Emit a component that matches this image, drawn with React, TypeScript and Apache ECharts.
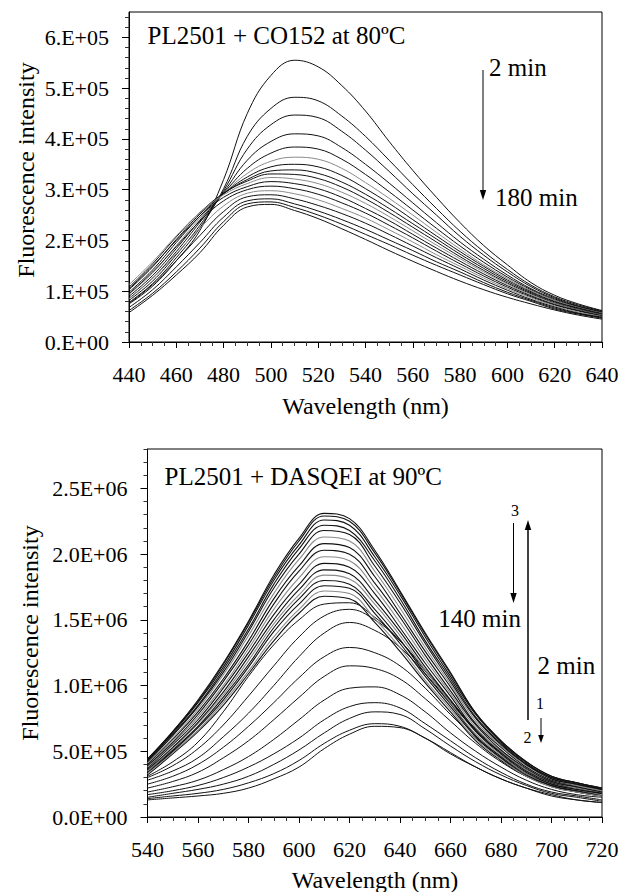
import React, { useEffect, useRef } from "react";
import * as echarts from "echarts";

// ---------- top panel: PL2501 + CO152 at 80ºC (values in 1E+05) ----------
const WL_TOP = [440, 450, 460, 470, 480, 490, 500, 510, 520, 530, 540, 550, 560, 570, 580, 590, 600, 610, 620, 630, 640];
const TOP_C01 = [0.75, 1.10, 1.60, 2.20, 3.20, 4.50, 5.25, 5.55, 5.42, 5.05, 4.55, 3.95, 3.38, 2.85, 2.35, 1.90, 1.52, 1.17, 0.92, 0.75, 0.62];
const TOP_C02 = [0.78, 1.15, 1.66, 2.25, 3.02, 4.05, 4.60, 4.82, 4.75, 4.45, 4.05, 3.58, 3.10, 2.63, 2.18, 1.78, 1.43, 1.12, 0.89, 0.73, 0.61];
const TOP_C03 = [0.82, 1.20, 1.72, 2.30, 2.98, 3.80, 4.28, 4.47, 4.42, 4.15, 3.78, 3.36, 2.92, 2.50, 2.08, 1.71, 1.38, 1.09, 0.87, 0.71, 0.60];
const TOP_C04 = [0.86, 1.26, 1.78, 2.36, 2.95, 3.58, 3.95, 4.10, 4.06, 3.83, 3.50, 3.13, 2.74, 2.35, 1.97, 1.63, 1.32, 1.05, 0.85, 0.70, 0.59];
const TOP_C05 = [0.90, 1.31, 1.84, 2.40, 2.93, 3.42, 3.72, 3.84, 3.80, 3.60, 3.30, 2.96, 2.60, 2.24, 1.89, 1.57, 1.28, 1.03, 0.83, 0.69, 0.58];
const TOP_C06 = [0.94, 1.36, 1.90, 2.44, 2.92, 3.32, 3.56, 3.64, 3.60, 3.42, 3.14, 2.83, 2.50, 2.16, 1.83, 1.52, 1.25, 1.01, 0.82, 0.68, 0.57];
const TOP_C07 = [0.98, 1.42, 1.96, 2.48, 2.92, 3.25, 3.45, 3.50, 3.45, 3.28, 3.02, 2.73, 2.41, 2.09, 1.78, 1.49, 1.22, 0.99, 0.80, 0.67, 0.56];
const TOP_C08 = [1.03, 1.48, 2.02, 2.52, 2.92, 3.20, 3.37, 3.39, 3.32, 3.15, 2.91, 2.63, 2.33, 2.03, 1.73, 1.45, 1.19, 0.97, 0.79, 0.66, 0.55];
const TOP_C09 = [1.08, 1.54, 2.07, 2.55, 2.93, 3.17, 3.31, 3.30, 3.22, 3.05, 2.82, 2.55, 2.26, 1.97, 1.68, 1.41, 1.16, 0.95, 0.77, 0.64, 0.54];
const TOP_C10 = [1.13, 1.58, 2.09, 2.55, 2.90, 3.12, 3.24, 3.21, 3.12, 2.95, 2.73, 2.47, 2.19, 1.91, 1.64, 1.38, 1.14, 0.93, 0.76, 0.63, 0.53];
const TOP_C11 = [1.05, 1.50, 2.00, 2.48, 2.85, 3.06, 3.16, 3.12, 3.02, 2.85, 2.63, 2.39, 2.12, 1.85, 1.59, 1.34, 1.11, 0.91, 0.74, 0.62, 0.52];
const TOP_C12 = [0.95, 1.38, 1.88, 2.38, 2.78, 3.00, 3.07, 3.02, 2.91, 2.74, 2.54, 2.30, 2.05, 1.79, 1.54, 1.30, 1.08, 0.89, 0.73, 0.61, 0.51];
const TOP_C13 = [0.85, 1.25, 1.74, 2.24, 2.68, 2.93, 2.98, 2.92, 2.80, 2.63, 2.44, 2.21, 1.97, 1.72, 1.49, 1.26, 1.05, 0.87, 0.71, 0.59, 0.50];
const TOP_C14 = [0.76, 1.13, 1.60, 2.10, 2.57, 2.86, 2.90, 2.82, 2.69, 2.53, 2.34, 2.12, 1.89, 1.66, 1.44, 1.22, 1.02, 0.84, 0.69, 0.57, 0.49];
const TOP_C15 = [0.68, 1.03, 1.48, 1.96, 2.46, 2.78, 2.82, 2.72, 2.58, 2.41, 2.22, 2.01, 1.80, 1.58, 1.38, 1.17, 0.98, 0.82, 0.67, 0.56, 0.48];
const TOP_C16 = [0.62, 0.96, 1.38, 1.85, 2.37, 2.72, 2.76, 2.65, 2.50, 2.32, 2.12, 1.92, 1.71, 1.51, 1.32, 1.13, 0.95, 0.80, 0.65, 0.55, 0.47];
const TOP_C17 = [0.58, 0.92, 1.32, 1.76, 2.30, 2.66, 2.71, 2.59, 2.43, 2.23, 2.02, 1.80, 1.59, 1.39, 1.20, 1.03, 0.88, 0.75, 0.63, 0.53, 0.45];
const TOP_CURVES = [TOP_C01, TOP_C02, TOP_C03, TOP_C04, TOP_C05, TOP_C06, TOP_C07, TOP_C08, TOP_C09, TOP_C10, TOP_C11, TOP_C12, TOP_C13, TOP_C14, TOP_C15, TOP_C16, TOP_C17];
const TOP_GRAY = [5, 9, 12];
const TOP_Y_TICKS = [0, 1, 2, 3, 4, 5, 6];

// ---------- bottom panel: PL2501 + DASQEI at 90ºC (values in 1E+06) ----------
const WL_BOT = [540, 550, 560, 570, 580, 590, 600, 610, 620, 630, 640, 650, 660, 670, 680, 690, 700, 710, 720];
// lower, separated curves
const BOT_L01 = [0.13, 0.145, 0.16, 0.18, 0.22, 0.29, 0.38, 0.52, 0.63, 0.69, 0.68, 0.60, 0.49, 0.38, 0.29, 0.22, 0.17, 0.13, 0.11];
const BOT_L02 = [0.14, 0.16, 0.18, 0.21, 0.26, 0.33, 0.43, 0.56, 0.66, 0.71, 0.69, 0.60, 0.48, 0.38, 0.29, 0.22, 0.16, 0.13, 0.11];
const BOT_L03 = [0.15, 0.18, 0.21, 0.25, 0.31, 0.40, 0.51, 0.64, 0.75, 0.80, 0.78, 0.67, 0.54, 0.42, 0.32, 0.24, 0.18, 0.15, 0.12];
const BOT_L04 = [0.17, 0.20, 0.24, 0.30, 0.38, 0.48, 0.60, 0.74, 0.84, 0.87, 0.83, 0.71, 0.58, 0.45, 0.34, 0.25, 0.19, 0.16, 0.13];
const BOT_L05 = [0.19, 0.23, 0.28, 0.36, 0.46, 0.59, 0.74, 0.89, 0.98, 0.99, 0.93, 0.80, 0.64, 0.50, 0.38, 0.28, 0.21, 0.17, 0.15];
const BOT_L06 = [0.22, 0.27, 0.34, 0.45, 0.58, 0.74, 0.91, 1.07, 1.15, 1.13, 1.05, 0.90, 0.73, 0.56, 0.42, 0.31, 0.24, 0.19, 0.16];
const BOT_L07 = [0.25, 0.31, 0.40, 0.53, 0.69, 0.87, 1.06, 1.22, 1.29, 1.25, 1.15, 0.98, 0.78, 0.60, 0.45, 0.33, 0.25, 0.21, 0.17];
const BOT_L08 = [0.28, 0.35, 0.45, 0.61, 0.79, 1.00, 1.22, 1.40, 1.48, 1.42, 1.29, 1.09, 0.87, 0.66, 0.49, 0.36, 0.27, 0.22, 0.19];
const BOT_L09 = [0.30, 0.39, 0.52, 0.70, 0.92, 1.15, 1.37, 1.53, 1.58, 1.50, 1.34, 1.12, 0.89, 0.67, 0.50, 0.36, 0.27, 0.23, 0.19];
const BOT_L10 = [0.31, 0.42, 0.57, 0.80, 1.07, 1.31, 1.50, 1.62, 1.63, 1.52, 1.34, 1.11, 0.88, 0.66, 0.49, 0.36, 0.27, 0.22, 0.19];
// dense band
const BOT_D01 = [0.32, 0.48, 0.65, 0.85, 1.09, 1.34, 1.55, 1.68, 1.66, 1.48, 1.26, 1.02, 0.80, 0.58, 0.43, 0.31, 0.23, 0.19, 0.16];
const BOT_D02 = [0.33, 0.49, 0.66, 0.87, 1.11, 1.37, 1.58, 1.72, 1.70, 1.51, 1.29, 1.04, 0.82, 0.59, 0.44, 0.31, 0.23, 0.19, 0.16];
const BOT_D03 = [0.34, 0.50, 0.68, 0.89, 1.14, 1.41, 1.62, 1.76, 1.74, 1.55, 1.32, 1.07, 0.84, 0.61, 0.45, 0.32, 0.24, 0.20, 0.17];
const BOT_D04 = [0.35, 0.51, 0.69, 0.91, 1.16, 1.44, 1.66, 1.80, 1.77, 1.58, 1.35, 1.09, 0.86, 0.62, 0.46, 0.33, 0.24, 0.20, 0.17];
const BOT_D05 = [0.35, 0.52, 0.71, 0.93, 1.19, 1.47, 1.69, 1.84, 1.81, 1.62, 1.38, 1.12, 0.87, 0.63, 0.47, 0.33, 0.25, 0.21, 0.17];
const BOT_D06 = [0.36, 0.53, 0.72, 0.95, 1.22, 1.50, 1.73, 1.88, 1.85, 1.65, 1.41, 1.14, 0.89, 0.65, 0.48, 0.34, 0.25, 0.21, 0.18];
const BOT_D07 = [0.37, 0.55, 0.74, 0.98, 1.25, 1.54, 1.77, 1.93, 1.90, 1.70, 1.44, 1.17, 0.92, 0.66, 0.49, 0.35, 0.26, 0.22, 0.18];
const BOT_D08 = [0.38, 0.56, 0.76, 1.00, 1.28, 1.58, 1.82, 1.98, 1.95, 1.74, 1.48, 1.20, 0.94, 0.68, 0.50, 0.36, 0.27, 0.22, 0.19];
const BOT_D09 = [0.39, 0.57, 0.78, 1.03, 1.31, 1.62, 1.87, 2.03, 2.00, 1.78, 1.52, 1.23, 0.96, 0.70, 0.51, 0.37, 0.27, 0.23, 0.19];
const BOT_D10 = [0.40, 0.59, 0.80, 1.05, 1.34, 1.66, 1.91, 2.08, 2.05, 1.83, 1.55, 1.26, 0.99, 0.71, 0.53, 0.38, 0.28, 0.24, 0.20];
const BOT_D11 = [0.41, 0.60, 0.82, 1.08, 1.38, 1.70, 1.96, 2.13, 2.10, 1.87, 1.59, 1.29, 1.01, 0.73, 0.54, 0.39, 0.29, 0.24, 0.20];
const BOT_D12 = [0.42, 0.62, 0.84, 1.10, 1.41, 1.74, 2.00, 2.18, 2.15, 1.91, 1.63, 1.32, 1.03, 0.75, 0.55, 0.40, 0.29, 0.25, 0.21];
const BOT_D13 = [0.43, 0.63, 0.85, 1.12, 1.43, 1.77, 2.04, 2.22, 2.18, 1.95, 1.66, 1.34, 1.05, 0.76, 0.56, 0.40, 0.30, 0.25, 0.21];
const BOT_D14 = [0.43, 0.64, 0.87, 1.14, 1.46, 1.80, 2.07, 2.26, 2.22, 1.98, 1.69, 1.37, 1.07, 0.78, 0.57, 0.41, 0.30, 0.26, 0.21];
const BOT_D15 = [0.44, 0.65, 0.88, 1.16, 1.48, 1.82, 2.10, 2.29, 2.25, 2.01, 1.71, 1.39, 1.09, 0.79, 0.58, 0.42, 0.31, 0.26, 0.22];
const BOT_D16 = [0.44, 0.65, 0.89, 1.17, 1.49, 1.84, 2.12, 2.31, 2.27, 2.03, 1.72, 1.40, 1.10, 0.79, 0.58, 0.42, 0.31, 0.26, 0.22];
const BOT_CURVES = [
  BOT_L01, BOT_L02, BOT_L03, BOT_L04, BOT_L05, BOT_L06, BOT_L07, BOT_L08, BOT_L09, BOT_L10,
  BOT_D01, BOT_D02, BOT_D03, BOT_D04, BOT_D05, BOT_D06, BOT_D07, BOT_D08, BOT_D09, BOT_D10, BOT_D11, BOT_D12, BOT_D13, BOT_D14, BOT_D15, BOT_D16,
];
const BOT_GRAY = [11, 14, 17, 20];
const BOT_Y_TICKS = [0, 0.5, 1.0, 1.5, 2.0, 2.5];

const FONT = "Times New Roman";

function minorValues(step: number, max: number, major: number): number[] {
  const out: number[] = [];
  for (let k = 1; k * step <= max + 1e-6; k++) {
    const v = k * step;
    if (Math.abs(v / major - Math.round(v / major)) > 1e-6) out.push(v);
  }
  return out;
}

export default function App() {
  const ref = useRef<HTMLDivElement>(null);
  useEffect(() => {
    if (!ref.current) return;
    const chart = echarts.init(ref.current, undefined, { renderer: "svg" });
    const black = "#000";
    const xAxisCommon = (grid: number, min: number, max: number) => ({
      type: "value",
      gridIndex: grid,
      min,
      max,
      interval: 20,
      axisLine: { show: true, lineStyle: { color: black, width: 1 } },
      axisTick: { show: true, length: 6, lineStyle: { color: black } },
      minorTick: { show: true, splitNumber: 4, length: 4, lineStyle: { color: "#333" } },
      splitLine: { show: false },
      minorSplitLine: { show: false },
      axisLabel: { color: black, fontFamily: FONT, fontSize: 22, margin: 21 },
    });
    const topMajors = TOP_Y_TICKS.map((v) => v * 1e5);
    const botMajors = BOT_Y_TICKS.map((v) => v * 1e6);
    const yMain = (grid: number, max: number, majors: number[], fmt: (v: number) => string) => ({
      type: "value",
      gridIndex: grid,
      min: 0,
      max,
      position: "left",
      axisLine: { show: true, lineStyle: { color: black, width: 1 } },
      axisTick: { show: true, length: 7, customValues: majors, lineStyle: { color: black } },
      axisLabel: { customValues: majors, formatter: fmt, color: black, fontFamily: FONT, fontSize: 22, margin: 20 },
      splitLine: { show: false },
    });
    const yMinor = (grid: number, max: number, minors: number[]) => ({
      type: "value",
      gridIndex: grid,
      min: 0,
      max,
      position: "left",
      axisLine: { show: false },
      axisTick: { show: true, length: 4, customValues: minors, lineStyle: { color: "#333" } },
      axisLabel: { show: false },
      splitLine: { show: false },
    });
    const series: any[] = [];
    TOP_CURVES.forEach((arr, i) => {
      series.push({
        type: "line",
        xAxisIndex: 0,
        yAxisIndex: 0,
        data: arr.map((v, j) => [WL_TOP[j], v * 1e5]),
        showSymbol: false,
        smooth: 0.4,
        silent: true,
        lineStyle: { width: 1, color: TOP_GRAY.includes(i) ? "#8a8a8a" : "#111" },
      });
    });
    BOT_CURVES.forEach((arr, i) => {
      series.push({
        type: "line",
        xAxisIndex: 1,
        yAxisIndex: 2,
        data: arr.map((v, j) => [WL_BOT[j], v * 1e6]),
        showSymbol: false,
        smooth: 0.4,
        silent: true,
        lineStyle: { width: i >= 10 ? 1.1 : 1, color: BOT_GRAY.includes(i) ? "#8a8a8a" : "#111" },
      });
    });
    const txt = (text: string, x: number, y: number, size: number, align: string, rotation = 0) => ({
      type: "text",
      x,
      y,
      rotation,
      silent: true,
      style: { text, fill: black, font: `${size}px Times New Roman`, align, verticalAlign: "middle" },
    });
    const vline = (x: number, y1: number, y2: number, w = 1) => ({
      type: "line",
      silent: true,
      shape: { x1: x, y1, x2: x, y2 },
      style: { stroke: black, lineWidth: w },
    });
    const head = (x: number, tipY: number, dir: number, hw = 3.2, hl = 10) => ({
      type: "polygon",
      silent: true,
      shape: { points: [[x - hw, tipY - dir * hl], [x + hw, tipY - dir * hl], [x, tipY]] },
      style: { fill: black },
    });
    chart.setOption({
      animation: false,
      backgroundColor: "#fff",
      grid: [
        { left: 129, top: 12, width: 473, height: 330, show: true, borderColor: black, borderWidth: 1, backgroundColor: "transparent" },
        { left: 147.5, top: 449, width: 454.5, height: 368, show: true, borderColor: black, borderWidth: 1, backgroundColor: "transparent" },
      ],
      xAxis: [xAxisCommon(0, 440, 640), xAxisCommon(1, 540, 720)],
      yAxis: [
        yMain(0, 650000, topMajors, (v: number) => (v === 0 ? "0.E+00" : `${Math.round(v / 1e5)}.E+05`)),
        yMinor(0, 650000, minorValues(20000, 640000, 100000)),
        yMain(1, 2800000, botMajors, (v: number) =>
          v === 0 ? "0.0E+00" : v < 1e6 ? `${(v / 1e5).toFixed(1)}E+05` : `${(v / 1e6).toFixed(1)}E+06`
        ),
        yMinor(1, 2800000, minorValues(100000, 2800000, 500000)),
      ],
      series,
      graphic: [
        txt("PL2501 + CO152 at 80ºC", 147.5, 35, 25, "left"),
        txt("PL2501 + DASQEI at 90ºC", 164.5, 476, 25, "left"),
        txt("Fluorescence intensity", 26, 170, 24, "center", Math.PI / 2),
        txt("Fluorescence intensity", 30, 633, 24, "center", Math.PI / 2),
        txt("Wavelength (nm)", 365.5, 406, 24, "center"),
        txt("Wavelength (nm)", 375, 880, 24, "center"),
        // top annotations
        vline(483, 70, 192),
        head(483, 200, 1),
        txt("2 min", 489, 67, 25, "left"),
        txt("180 min", 495, 197, 25, "left"),
        // bottom annotations
        txt("3", 515, 510, 16, "center"),
        vline(513.5, 523, 594),
        head(513.5, 603, 1),
        vline(528, 720, 530, 1.5),
        head(528, 520, -1),
        txt("140 min", 521, 618, 25, "right"),
        txt("2 min", 537.5, 665, 25, "left"),
        txt("1", 540, 703, 16, "center"),
        txt("2", 527.5, 737, 16, "center"),
        vline(541, 718, 736),
        head(541, 743, 1, 2.8, 8),
      ],
    });
    return () => chart.dispose();
  }, []);
  return <div ref={ref} style={{ position: "absolute", left: 0, top: 0, width: 623, height: 892 }} />;
}
